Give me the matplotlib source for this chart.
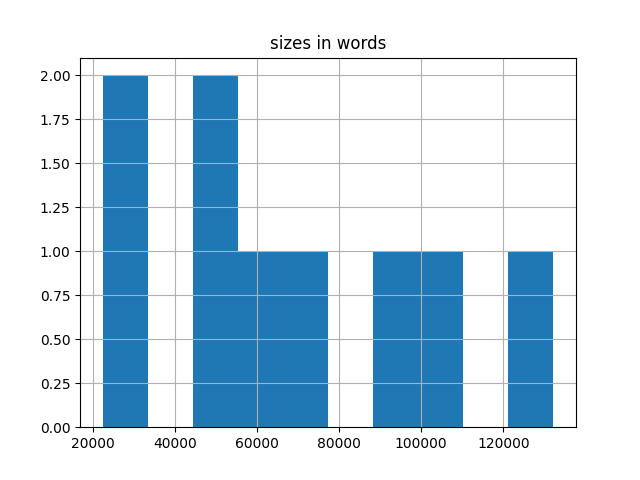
import matplotlib
matplotlib.use("Agg")
import matplotlib.pyplot as plt

sizes_in_words = [22400, 28000, 46000, 52000, 60000, 72000, 94000, 104000, 132200]
title = "sizes in words"

fig, ax = plt.subplots(figsize=(6.4, 4.8), dpi=100)
ax.hist(sizes_in_words, bins=10, color="#1f77b4")
ax.grid(True)
ax.set_title(title)
fig.savefig("out.png")
